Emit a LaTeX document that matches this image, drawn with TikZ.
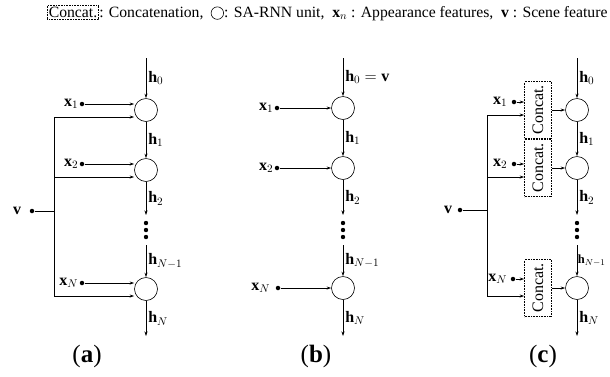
\documentclass[tikz,border=0pt]{standalone}
\usepackage{fix-cm}
\usepackage{amsmath}
\usepackage{amssymb}
\usepackage{fontspec}
\setmainfont{Liberation Serif}
\usetikzlibrary{positioning,arrows.meta}

\tikzset{
  unit/.style={draw, circle, minimum size=23pt, inner sep=0pt},
  concat/.style={draw, densely dotted, minimum width=27pt, minimum height=57pt, inner sep=0pt},
  feat/.style={circle, fill, inner sep=0pt, minimum size=4.5pt},
  hlab/.style={right, inner sep=2pt},
  keyfont/.style={font=\fontsize{15.7}{18}\selectfont},
  tag/.style={font=\fontsize{25}{27}\selectfont},
}

\begin{document}
\begin{tikzpicture}[x=1pt, y=-1pt, >={Stealth[length=4.5pt,width=3pt]},
  font=\fontsize{16}{18}\selectfont, line width=0.6pt]
\useasboundingbox (0,0) rectangle (610,376);

% legend
\node[keyfont, draw, densely dotted, inner sep=1.5pt, anchor=west] (key) at (47,12) {Concat.};
\node[keyfont, anchor=base west, inner sep=0pt] (keytxt) at (key.base east) {: Concatenation,};
\node[unit, minimum size=12.5pt, right=7pt of keytxt] (keyunit) {};
\node[keyfont, anchor=base west, inner sep=0pt] (keyrest) at (keyunit.east |- keytxt.base)
  {: SA-RNN unit,\ \ $\mathbf{x}_n$ : Appearance features,\ \ $\mathbf{v}$ : Scene feature};

% (a)
\node[unit] (a1) at (146,110) {};
\node[unit] (a2) at (146,170) {};
\node[unit] (aN) at (146,289) {};
\coordinate (a0) at (146,58);
\coordinate (aD1) at (146,215);
\coordinate (aD2) at (146,245);
\coordinate (aE) at (146,336);
\fill (146,223) circle (2.2pt) (146,230) circle (2.2pt) (146,237) circle (2.2pt);

\draw[->] (a0) -- node[hlab] (ah0) {$\mathbf{h}_0$} (a1);
\draw[->] (a1) -- node[hlab] (ah1) {$\mathbf{h}_1$} (a2);
\draw[->] (a2) -- node[hlab] (ah2) {$\mathbf{h}_2$} (aD1);
\draw[->] (aD2) -- node[hlab] (ahN1) {$\mathbf{h}_{N-1}$} (aN);
\draw[->] (aN) -- node[hlab] (ahN) {$\mathbf{h}_N$} (aE);

\node[feat] (ax1) at (82,104) {};
\node[feat] (ax2) at (82,164) {};
\node[feat] (axN) at (82,283) {};
\node[left=1pt of ax1, inner sep=0pt] (lax1) {$\mathbf{x}_1$};
\node[left=1pt of ax2, inner sep=0pt] (lax2) {$\mathbf{x}_2$};
\node[left=1pt of axN, inner sep=0pt] (laxN) {$\mathbf{x}_N$};
\draw[->] (ax1) -- (ax1 -| a1.west);
\draw[->] (ax2) -- (ax2 -| a2.west);
\draw[->] (axN) -- (axN -| aN.west);

\node[feat] (va) at (32,211) {};
\node[left=8pt of va, inner sep=0pt] (lva) {$\mathbf{v}$};
\coordinate (ta) at (54,211);
\draw (va) -- (ta);
\draw[->] (ta) |- ([yshift=-7pt]a1.west);
\draw[->] (ta) |- ([yshift=-7pt]a2.west);
\draw[->] (ta) |- ([yshift=-7pt]aN.west);

\node[tag] (taga) at (87,356) {(\textbf{a})};

% (b)
\node[unit] (b1) at (343,108) {};
\node[unit] (b2) at (343,168) {};
\node[unit] (bN) at (343,288) {};
\coordinate (b0) at (343,58);
\coordinate (bD1) at (343,215);
\coordinate (bD2) at (343,245);
\coordinate (bE) at (343,336);
\fill (343,223) circle (2.2pt) (343,230) circle (2.2pt) (343,237) circle (2.2pt);

\draw[->] (b0) -- node[hlab] (bh0) {$\mathbf{h}_0=\mathbf{v}$} (b1);
\draw[->] (b1) -- node[hlab] (bh1) {$\mathbf{h}_1$} (b2);
\draw[->] (b2) -- node[hlab] (bh2) {$\mathbf{h}_2$} (bD1);
\draw[->] (bD2) -- node[hlab] (bhN1) {$\mathbf{h}_{N-1}$} (bN);
\draw[->] (bN) -- node[hlab] (bhN) {$\mathbf{h}_N$} (bE);

\node[feat] (bx1) at (277,108) {};
\node[feat] (bx2) at (277,168) {};
\node[feat] (bxN) at (278,288) {};
\node[left=1pt of bx1, inner sep=0pt] (lbx1) {$\mathbf{x}_1$};
\node[left=1pt of bx2, inner sep=0pt] (lbx2) {$\mathbf{x}_2$};
\node[left=5pt of bxN, inner sep=0pt] (lbxN) {$\mathbf{x}_N$};
\draw[->] (bx1) -- (b1);
\draw[->] (bx2) -- (b2);
\draw[->] (bxN) -- (bN);

\node[tag] (tagb) at (316,356) {(\textbf{b})};

% (c)
\node[unit] (c1) at (577,110) {};
\node[unit] (c2) at (577,168) {};
\node[unit] (cN) at (577,288) {};
\coordinate (c0) at (577,58);
\coordinate (cD1) at (577,215);
\coordinate (cD2) at (577,245);
\coordinate (cE) at (577,336);
\fill (577,223) circle (2.2pt) (577,230) circle (2.2pt) (577,237) circle (2.2pt);

\draw[->] (c0) -- node[hlab] (ch0) {$\mathbf{h}_0$} (c1);
\draw[->] (c1) -- node[hlab] (ch1) {$\mathbf{h}_1$} (c2);
\draw[->] (c2) -- node[hlab] (ch2) {$\mathbf{h}_2$} (cD1);
\draw[->] (cD2) -- node[hlab, inner sep=0.5pt, font=\fontsize{12.5}{14}\selectfont] (chN1) {$\mathbf{h}_{N-1}$} (cN);
\draw[->] (cN) -- node[hlab] (chN) {$\mathbf{h}_N$} (cE);

\node[concat] (k1) at (538,110) {\rotatebox{90}{Concat.}};
\node[concat] (k2) at (538,168) {\rotatebox{90}{Concat.}};
\node[concat] (kN) at (538,288) {\rotatebox{90}{Concat.}};
\draw[->] (k1) -- (c1);
\draw[->] (k2) -- (c2);
\draw[->] (kN) -- (cN);

\node[feat] (cx1) at (514,102) {};
\node[feat] (cx2) at (514,164) {};
\node[feat] (cxN) at (513,279) {};
\node[left=4pt of cx1, inner sep=0pt] (lcx1) {$\mathbf{x}_1$};
\node[left=4pt of cx2, inner sep=0pt] (lcx2) {$\mathbf{x}_2$};
\node[left=3pt of cxN, inner sep=0pt] (lcxN) {$\mathbf{x}_N$};
\draw[->] (cx1) -- (cx1 -| k1.west);
\draw[->] (cx2) -- (cx2 -| k2.west);
\draw[->] (cxN) -- (cxN -| kN.west);

\node[feat] (vc) at (460,210) {};
\node[left=5pt of vc, inner sep=0pt] (lvc) {$\mathbf{v}$};
\coordinate (tc) at (487,210);
\draw (vc) -- (tc);
\draw[->] (tc) |- ([yshift=-5pt]k1.west);
\draw[->] (tc) |- ([yshift=-9pt]k2.west);
\draw[->] (tc) |- ([yshift=-8pt]kN.west);

\node[tag] (tagc) at (543,356) {(\textbf{c})};
\end{tikzpicture}
\end{document}
